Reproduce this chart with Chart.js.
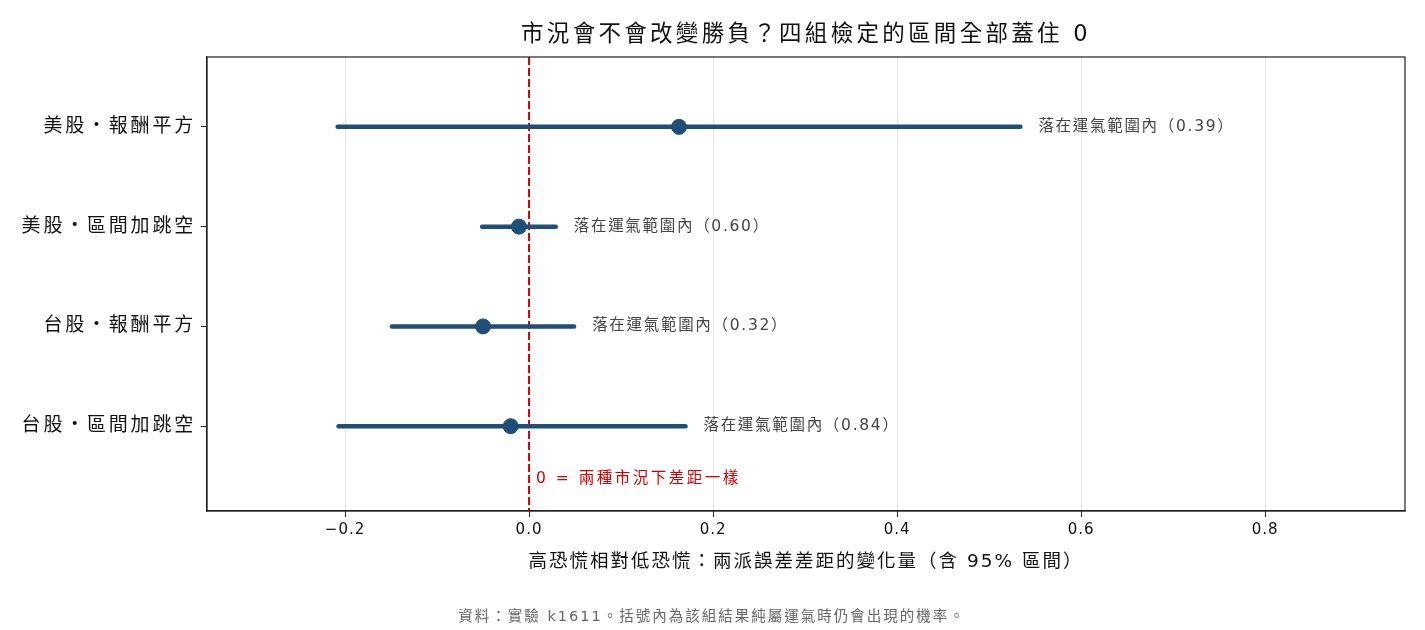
<!DOCTYPE html>
<html>
<head>
<meta charset="utf-8">
<script src="https://cdn.jsdelivr.net/npm/chart.js@4/dist/chart.umd.min.js"></script>
<style>
  html, body { margin: 0; padding: 0; background: #fff; }
  #wrap { width: 1425px; height: 630px; }
</style>
</head>
<body>
<div id="wrap"><canvas id="forestChart"></canvas></div>
<script>
// data
const groups = ['美股・報酬平方', '美股・區間加跳空', '台股・報酬平方', '台股・區間加跳空'];
const estimates = [0.163, -0.011, -0.050, -0.020];
const lowerBounds = [-0.208, -0.051, -0.149, -0.207];
const upperBounds = [0.534, 0.029, 0.049, 0.170];
const pValues = [0.39, 0.60, 0.32, 0.84];
const xTickValues = [-0.2, 0, 0.2, 0.4, 0.6, 0.8];

const X_MIN = -0.35, X_MAX = 0.952;
const Y_MIN = -0.7, Y_MAX = 3.85;
const FONT = '"DejaVu Sans", "Noto Sans CJK TC", sans-serif';
const NAVY = '#1f4e79';
const RED = '#d40000';

const canvas = document.getElementById('forestChart');

const intervalSets = groups.map((g, i) => ({
    type: 'line',
    label: g,
    data: [{ x: lowerBounds[i], y: i }, { x: upperBounds[i], y: i }],
    borderColor: NAVY,
    borderWidth: 4.5,
    borderCapStyle: 'round',
    pointRadius: 0,
    showLine: true,
    order: 2
}));

const zeroLine = {
    type: 'line',
    label: 'zero',
    data: [{ x: 0, y: Y_MIN }, { x: 0, y: Y_MAX }],
    borderColor: RED,
    borderWidth: 2,
    borderDash: [8, 3],
    pointRadius: 0,
    showLine: true,
    order: 3
};

const pointSet = {
    type: 'scatter',
    label: 'estimate',
    data: estimates.map((v, i) => ({ x: v, y: i })),
    backgroundColor: NAVY,
    borderColor: NAVY,
    pointRadius: 7.5,
    order: 0
};

// the reference glyphs run wide, so each text gets a bit of tracking
function withSpacing(obj, fn, spacing) {
    const orig = obj[fn];
    obj[fn] = function (...args) {
        const ctx = this.ctx;
        const prev = ctx.letterSpacing;
        ctx.letterSpacing = spacing;
        orig.apply(this, args);
        ctx.letterSpacing = prev;
    };
}

const annotatePlugin = {
    id: 'annotate',
    afterLayout(chart) {
        if (chart.$spaced) return;
        chart.$spaced = true;
        withSpacing(chart.scales.x, 'drawLabels', '1px');
        withSpacing(chart.scales.x, 'drawTitle', '2px');
        withSpacing(chart.scales.y, 'drawLabels', '2.8px');
    },
    beforeDraw(chart) {
        chart.ctx.letterSpacing = '3.3px';
    },
    afterDraw(chart) {
        const { ctx, chartArea, scales } = chart;
        const xs = scales.x, ys = scales.y;
        ctx.save();
        ctx.strokeStyle = '#222';
        ctx.lineWidth = 1.2;
        ctx.strokeRect(chartArea.left, chartArea.top, chartArea.right - chartArea.left, chartArea.bottom - chartArea.top);

        ctx.letterSpacing = '1.7px';
        ctx.font = '15.5px ' + FONT;
        ctx.fillStyle = '#444';
        ctx.textAlign = 'left';
        ctx.textBaseline = 'middle';
        groups.forEach((g, i) => {
            const px = xs.getPixelForValue(upperBounds[i]) + 18;
            const py = ys.getPixelForValue(i);
            ctx.fillText('落在運氣範圍內（' + pValues[i].toFixed(2) + '）', px, py);
        });

        ctx.letterSpacing = '2.5px';
        ctx.font = '15.5px ' + FONT;
        ctx.fillStyle = RED;
        ctx.fillText('0 = 兩種市況下差距一樣', xs.getPixelForValue(0) + 7, ys.getPixelForValue(3.53));

        ctx.letterSpacing = '2px';
        ctx.font = '14.5px ' + FONT;
        ctx.fillStyle = '#666';
        ctx.textAlign = 'center';
        ctx.fillText('資料：實驗 k1611。括號內為該組結果純屬運氣時仍會出現的機率。', 712, 617);
        ctx.restore();
    }
};

new Chart(canvas, {
    data: { datasets: [zeroLine, ...intervalSets, pointSet] },
    options: {
        responsive: true,
        maintainAspectRatio: false,
        animation: false,
        layout: { padding: { left: 0, right: 20, top: 0, bottom: 0 } },
        plugins: {
            legend: { display: false },
            tooltip: { enabled: false },
            title: {
                display: true,
                fullSize: false,
                text: '市況會不會改變勝負？四組檢定的區間全部蓋住 0',
                color: '#111',
                font: { family: FONT, size: 22.5, weight: 'normal' },
                padding: { top: 21.5, bottom: 8.5 }
            }
        },
        scales: {
            x: {
                type: 'linear',
                min: X_MIN,
                max: X_MAX,
                afterBuildTicks: s => { s.ticks = xTickValues.map(v => ({ value: v })); },
                afterFit: s => { s.height = 119; },
                ticks: {
                    color: '#111',
                    padding: 4,
                    font: { family: FONT, size: 15 },
                    callback: v => v.toFixed(1).replace('-', '−')
                },
                grid: { color: '#e6e6e6', tickColor: '#222', tickLength: 6, lineWidth: 1 },
                border: { display: true, color: '#222', width: 1.2 },
                title: {
                    display: true,
                    text: '高恐慌相對低恐慌：兩派誤差差距的變化量（含 95% 區間）',
                    color: '#111',
                    font: { family: FONT, size: 18.5 },
                    padding: { top: 0, bottom: 57 }
                }
            },
            y: {
                type: 'linear',
                reverse: true,
                min: Y_MIN,
                max: Y_MAX,
                afterBuildTicks: s => { s.ticks = groups.map((g, i) => ({ value: i })); },
                afterFit: s => { s.width = 207; },
                ticks: {
                    color: '#111',
                    padding: 5,
                    font: { family: FONT, size: 19 },
                    callback: v => groups[v] || ''
                },
                grid: { drawOnChartArea: false, tickColor: '#222', tickLength: 6 },
                border: { display: true, color: '#222', width: 1.2 }
            }
        }
    },
    plugins: [annotatePlugin]
});
</script>
</body>
</html>
